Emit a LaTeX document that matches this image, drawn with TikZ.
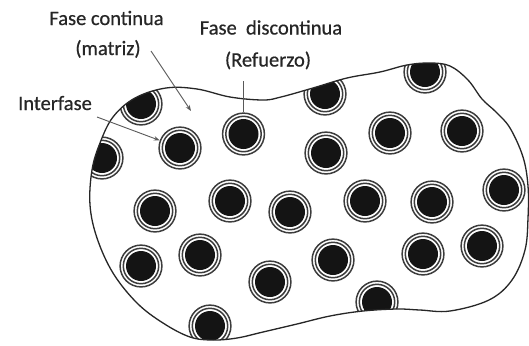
\documentclass[tikz,border=0pt]{standalone}
\usepackage{fontspec}
\setmainfont{Carlito}
\newfontface\lblface{Carlito}[FakeBold=0.6]
\usetikzlibrary{arrows.meta}
\definecolor{ringc}{HTML}{3C3C3C}
\definecolor{txt}{HTML}{262626}
\definecolor{corec}{HTML}{141414}
\begin{document}
\begin{tikzpicture}[x=1bp,y=-1bp,
  fiber/.style={circle,minimum size=41.8bp,inner sep=0pt,draw=ringc,line width=1.5bp,fill=white,
    path picture={\fill[corec] (path picture bounding box.center) circle[radius=15bp];
      \draw[ringc,line width=1.5bp] (path picture bounding box.center) circle[radius=17.7bp];}},
  lbl/.style={font=\lblface\fontsize{20.5bp}{24bp}\selectfont,text=txt,inner sep=0pt,anchor=base},
  arr/.style={draw=black!65,line width=0.9bp,-{Stealth[length=6bp,width=4.5bp]}},
  lead/.style={draw=black!65,line width=0.9bp},
  blob/.style={draw=black!85,line width=1.3bp}]
\path[use as bounding box,fill=white] (0,0) rectangle (529,345);

\begin{scope}
\clip plot[smooth cycle,tension=0.6] coordinates {
 (90,205) (92,170) (100,143) (113,117) (135,98) (166,88) (197,89) (230,97) (263,100)
 (281,97) (313,88) (347,78) (380,72) (407,65) (430,63) (450,66) (468,80) (482,99)
 (496,112) (510,128) (523,157) (528,186) (528,218) (525,250) (512,280) (489,300)
 (450,311) (420,310) (397,309) (363,311)
 (330,316) (297,324) (263,332) (237,338) (213,340) (190,337) (163,323) (137,303)
 (113,273) (97,238)};
\node[fiber] (fA) at (141,104) {};
\node[fiber] (fB) at (102,158) {};
\node[fiber] (fC) at (180,148) {};
\node[fiber] (fD) at (243.5,134) {};
\node[fiber] (fE) at (325,94) {};
\node[fiber] (fF) at (425,72) {};
\node[fiber] (fG) at (326,153) {};
\node[fiber] (fH) at (390,133) {};
\node[fiber] (fI) at (462,131) {};
\node[fiber] (fJ) at (504,190) {};
\node[fiber] (fK) at (155,211) {};
\node[fiber] (fL) at (230,201) {};
\node[fiber] (fM) at (290,212) {};
\node[fiber] (fN) at (365,201) {};
\node[fiber] (fO) at (432,202) {};
\node[fiber] (fP) at (141,266) {};
\node[fiber] (fQ) at (200,255) {};
\node[fiber] (fR) at (270,282) {};
\node[fiber] (fS) at (333,260) {};
\node[fiber] (fT) at (423,254) {};
\node[fiber] (fU) at (482,246) {};
\node[fiber] (fV) at (377,302) {};
\node[fiber] (fW) at (210,326) {};
\end{scope}

\draw[blob] plot[smooth cycle,tension=0.6] coordinates {
 (90,205) (92,170) (100,143) (113,117) (135,98) (166,88) (197,89) (230,97) (263,100)
 (281,97) (313,88) (347,78) (380,72) (407,65) (430,63) (450,66) (468,80) (482,99)
 (496,112) (510,128) (523,157) (528,186) (528,218) (525,250) (512,280) (489,300)
 (450,311) (420,310) (397,309) (363,311)
 (330,316) (297,324) (263,332) (237,338) (213,340) (190,337) (163,323) (137,303)
 (113,273) (97,238)};

\node[lbl] (tcont) at (106.5,25) {Fase continua};
\node[lbl] (tmat) at (108,55) {(matriz)};
\node[lbl] (tdisc) at (271,34.5) {Fase\ \ discontinua};
\node[lbl] (tref) at (268,66.5) {(Refuerzo)};
\node[lbl] (tint) at (55,110) {Interfase};

\coordinate (ma) at (151,51);
\coordinate (mt) at (191,111);
\coordinate (ia) at (97,117);
\coordinate (ra) at (243.5,81);
\draw[arr] (ma) -- (mt);
\draw[arr] (ia) -- (fC);
\draw[lead] (ra) -- (fD.north);
\end{tikzpicture}
\end{document}
